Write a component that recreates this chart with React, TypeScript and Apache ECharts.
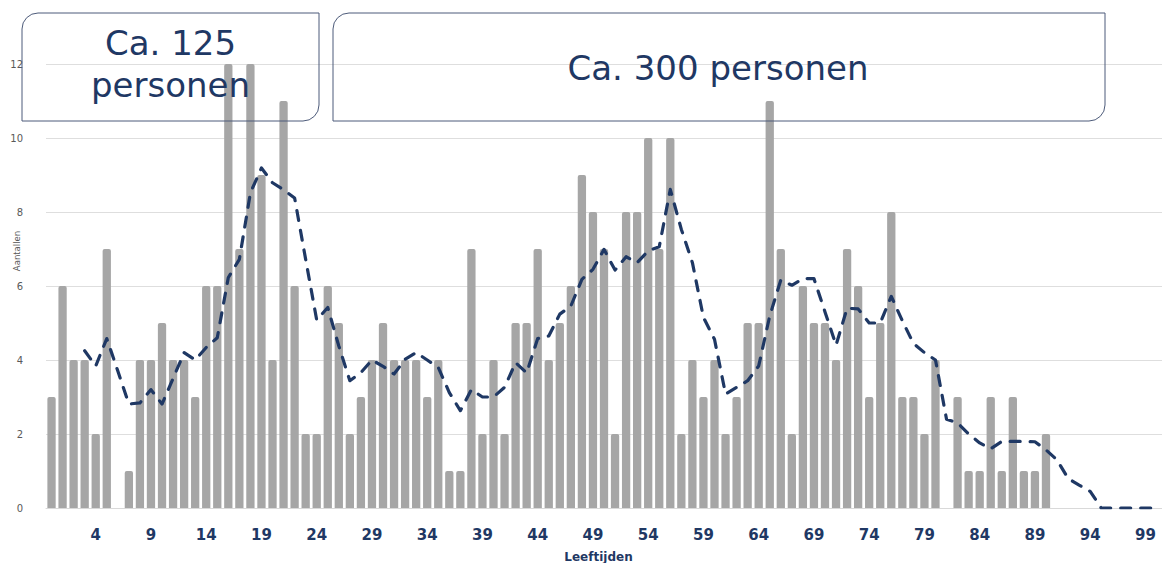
import React, { useEffect, useRef } from "react";
import * as echarts from "echarts";

const ages = [
  "0","1","2","3","4","5","6","7","8","9",
  "10","11","12","13","14","15","16","17","18","19",
  "20","21","22","23","24","25","26","27","28","29",
  "30","31","32","33","34","35","36","37","38","39",
  "40","41","42","43","44","45","46","47","48","49",
  "50","51","52","53","54","55","56","57","58","59",
  "60","61","62","63","64","65","66","67","68","69",
  "70","71","72","73","74","75","76","77","78","79",
  "80","81","82","83","84","85","86","87","88","89",
  "90","91","92","93","94","95","96","97","98","99",
  "100",
];

const counts = [
  3, 6, 4, 4, 2, 7, 0, 1, 4, 4,
  5, 4, 4, 3, 6, 6, 12, 7, 12, 9,
  4, 11, 6, 2, 2, 6, 5, 2, 3, 4,
  5, 4, 4, 4, 3, 4, 1, 1, 7, 2,
  4, 2, 5, 5, 7, 4, 5, 6, 9, 8,
  7, 2, 8, 8, 10, 7, 10, 2, 4, 3,
  4, 2, 3, 5, 5, 11, 7, 2, 6, 5,
  5, 4, 7, 6, 3, 5, 8, 3, 3, 2,
  4, 0, 3, 1, 1, 3, 1, 3, 1, 1,
  2, 0, 0, 0, 0, 0, 0, 0, 0, 0,
  0,
];

const movingAvg = [
  null, null, null, 4.25, 3.84, 4.58, 3.7, 2.81, 2.84, 3.2,
  2.81, 3.5, 4.2, 4.0, 4.34, 4.6, 6.23, 6.72, 8.52, 9.19,
  8.79, 8.6, 8.38, 6.72, 5.08, 5.42, 4.38, 3.44, 3.66, 4.0,
  3.83, 3.62, 4.02, 4.2, 4.0, 3.8, 3.12, 2.63, 3.2, 3.0,
  3.0, 3.26, 3.93, 3.65, 4.58, 4.65, 5.24, 5.46, 6.18, 6.45,
  6.99, 6.43, 6.79, 6.63, 6.95, 7.06, 8.61, 7.53, 6.63, 5.15,
  4.56, 3.08, 3.26, 3.44, 3.84, 5.19, 6.16, 6.02, 6.2, 6.2,
  5.3, 4.4, 5.4, 5.38, 5.0, 5.0, 5.72, 5.06, 4.45, 4.2,
  4.0, 2.4, 2.3, 2.0, 1.76, 1.6, 1.8, 1.8, 1.8, 1.79,
  1.57, 1.3, 0.8, 0.62, 0.45, 0, 0, 0, 0, 0,
  0,
];

const boxLabels = ["Ca. 125", "personen", "Ca. 300 personen"];
const xAxisTitle = "Leeftijden";
const yAxisTitle = "Aantallen";

const NAVY = "#1f3864";
const BOX = "#4d5b7a";

export default function App() {
  const ref = useRef<HTMLDivElement>(null);

  useEffect(() => {
    if (!ref.current) return;
    const chart = echarts.init(ref.current, null, { renderer: "svg" });
    chart.setOption({
      animation: false,
      backgroundColor: "#ffffff",
      grid: { left: 46, right: -2, top: 64, bottom: 55, containLabel: false },
      xAxis: {
        type: "category",
        data: ages,
        axisLine: { show: true, lineStyle: { color: "#d9d9d9", width: 1 } },
        axisTick: { show: false },
        axisLabel: {
          interval: (i: number) => i % 5 === 4,
          color: NAVY,
          fontFamily: "DejaVu Sans",
          fontWeight: "bold",
          fontSize: 15,
          margin: 19,
        },
        splitLine: { show: false },
      },
      yAxis: {
        type: "value",
        min: 0,
        max: 12,
        interval: 2,
        axisLine: { show: false },
        axisTick: { show: false },
        axisLabel: {
          color: "#595959",
          fontFamily: "DejaVu Sans",
          fontSize: 10,
          margin: 23,
        },
        splitLine: { show: true, lineStyle: { color: "#dedede", width: 1 } },
      },
      series: [
        {
          type: "bar",
          data: counts,
          barCategoryGap: "25%",
          itemStyle: { color: "#a6a6a6", borderRadius: [2, 2, 0, 0] },
        },
        {
          type: "line",
          data: movingAvg,
          symbol: "none",
          smooth: false,
          z: 5,
          lineStyle: {
            color: NAVY,
            width: 3.2,
            type: [10, 10],
            cap: "round",
            join: "round",
          },
        },
      ],
      graphic: [
        {
          type: "rect",
          z: 100,
          shape: { x: 22, y: 13, width: 297, height: 108, r: [16, 0, 16, 0] },
          style: { fill: "rgba(0,0,0,0)", stroke: BOX, lineWidth: 1 },
        },
        {
          type: "rect",
          z: 100,
          shape: { x: 333, y: 13, width: 772, height: 108, r: [16, 0, 16, 0] },
          style: { fill: "rgba(0,0,0,0)", stroke: BOX, lineWidth: 1 },
        },
        {
          type: "text",
          z: 101,
          x: 170.5,
          y: 43,
          style: {
            text: boxLabels[0],
            fill: NAVY,
            font: "34px 'DejaVu Sans'",
            textAlign: "center",
            textVerticalAlign: "middle",
          },
        },
        {
          type: "text",
          z: 101,
          x: 170.5,
          y: 85,
          style: {
            text: boxLabels[1],
            fill: NAVY,
            font: "34px 'DejaVu Sans'",
            textAlign: "center",
            textVerticalAlign: "middle",
          },
        },
        {
          type: "text",
          z: 101,
          x: 718,
          y: 68,
          style: {
            text: boxLabels[2],
            fill: NAVY,
            font: "34px 'DejaVu Sans'",
            textAlign: "center",
            textVerticalAlign: "middle",
          },
        },
        {
          type: "text",
          z: 101,
          x: 598.5,
          y: 557,
          style: {
            text: xAxisTitle,
            fill: NAVY,
            font: "bold 12px 'DejaVu Sans'",
            textAlign: "center",
            textVerticalAlign: "middle",
          },
        },
        {
          type: "text",
          z: 101,
          x: 17,
          y: 251,
          rotation: Math.PI / 2,
          style: {
            text: yAxisTitle,
            fill: "#595959",
            font: "8.5px 'DejaVu Sans'",
            textAlign: "center",
            textVerticalAlign: "middle",
          },
        },
      ],
    });
    return () => chart.dispose();
  }, []);

  return (
    <div
      ref={ref}
      style={{ position: "fixed", left: 0, top: 0, width: 1162, height: 563 }}
    />
  );
}
